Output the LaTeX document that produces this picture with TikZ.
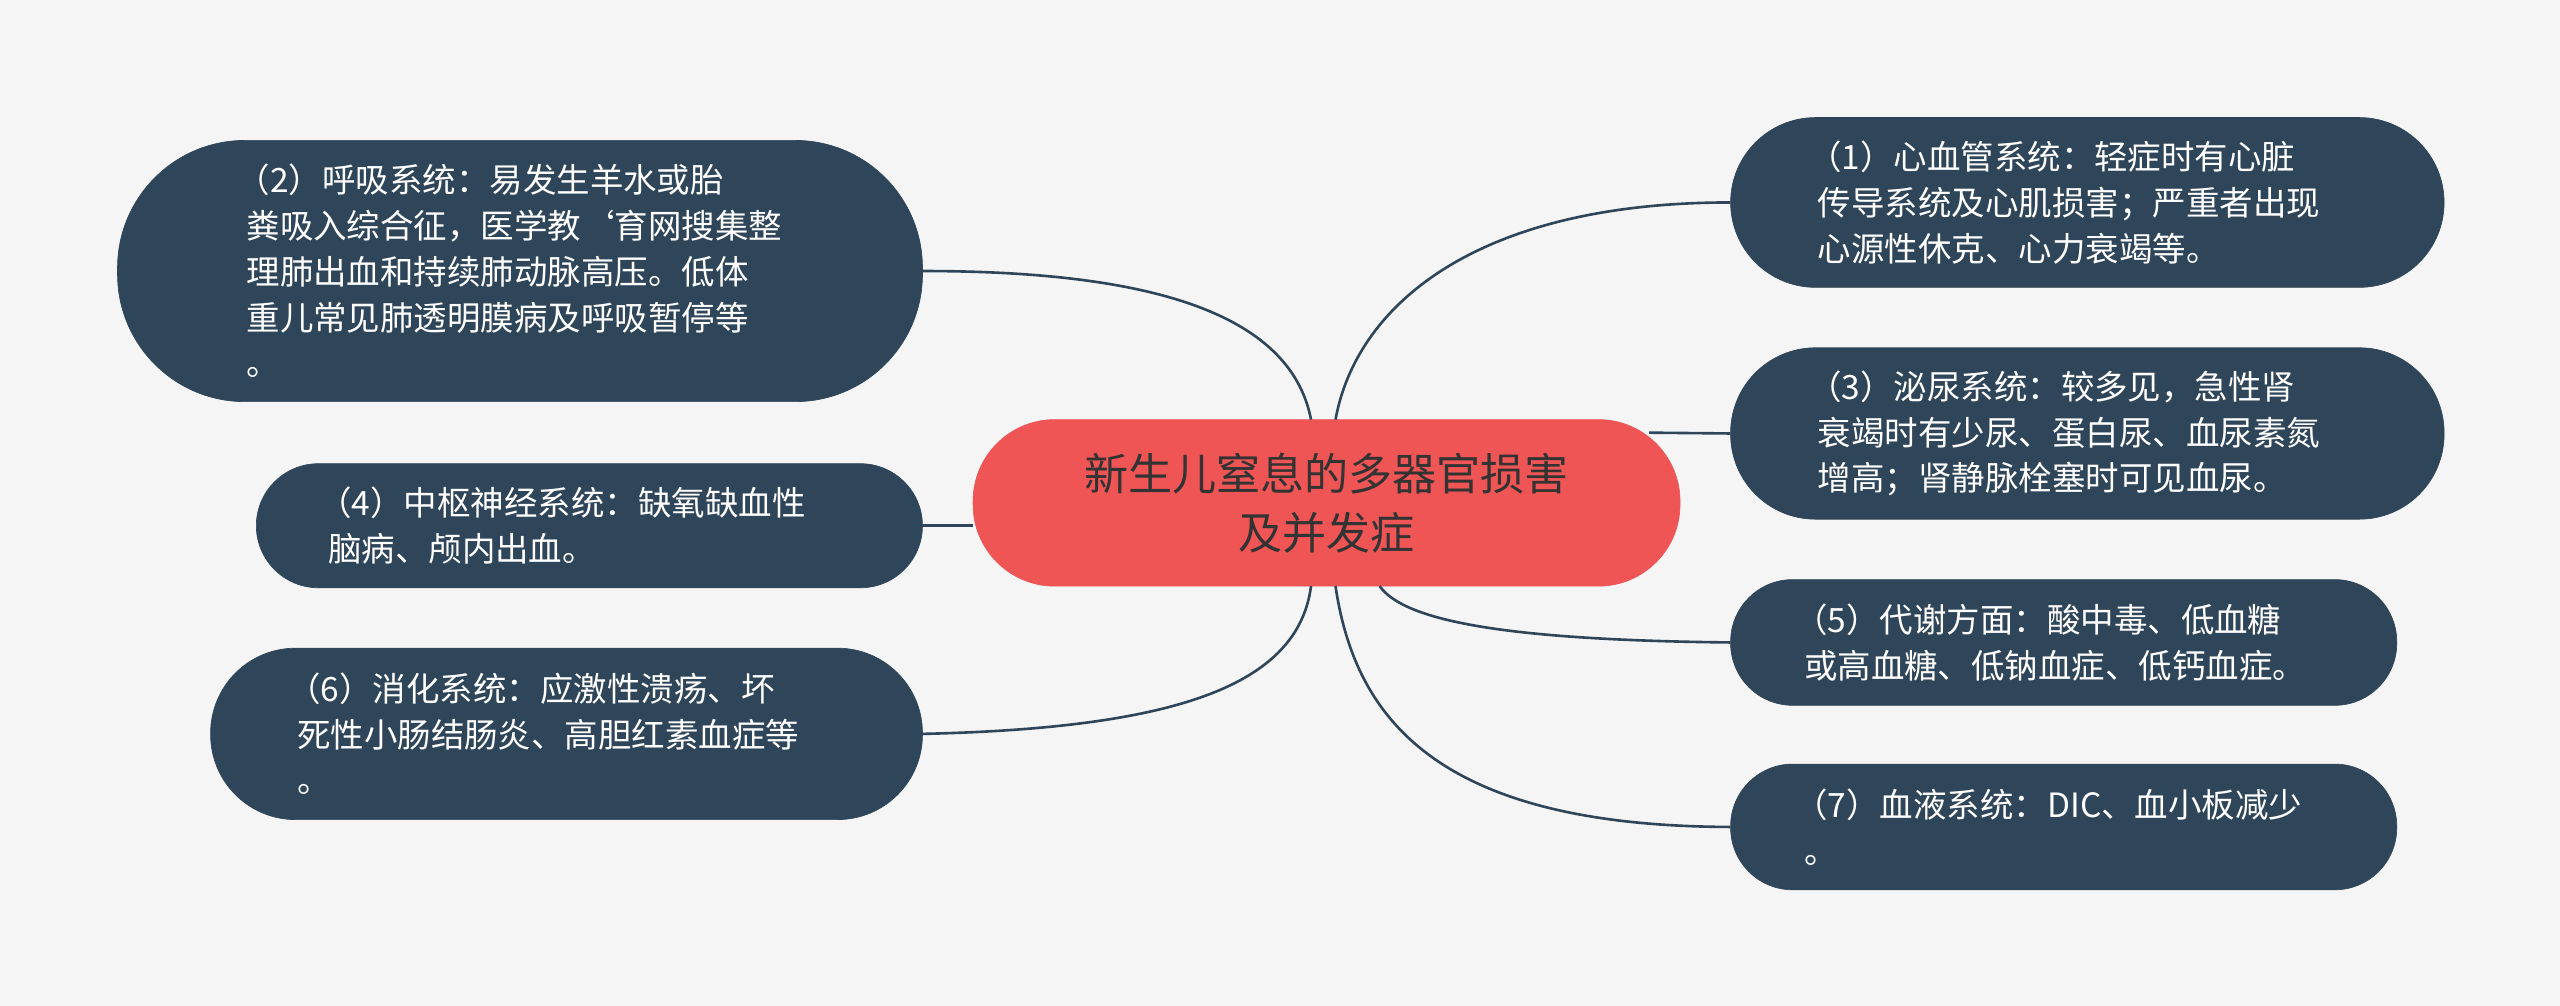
\documentclass[tikz,border=0pt]{standalone}
\usepackage{fontspec}
\setmainfont{Noto Sans CJK SC}
\definecolor{bg}{HTML}{F5F5F5}
\definecolor{dk}{HTML}{2F4559}
\definecolor{rd}{HTML}{EF5555}
\tikzset{
  leaf/.style={draw=dk,fill=dk,text=white,font=\fontsize{20.5}{28}\selectfont,align=left,inner sep=0pt},
  conn/.style={draw=dk,line width=1.6pt},
}
\begin{document}
\begin{tikzpicture}[x=1pt,y=-1pt]
\fill[bg] (0,0) rectangle (1568,616);
\useasboundingbox (0,0) rectangle (1568,616);
\node[fill=rd,draw=rd,rounded corners=50pt,minimum width=433pt,minimum height=102pt,font=\fontsize{27}{36}\selectfont,text=black!80,align=center,inner sep=0pt] (c) at (812.5,308) {新生儿窒息的多器官损害\\及并发症};
\node[leaf,rounded corners=78pt,minimum width=493pt,minimum height=160pt,text width=335pt] (n2) at (318.5,166) {\hspace*{-6pt}（2）呼吸系统：易发生羊水或胎\\粪吸入综合征，医学教`育网搜集整\\理肺出血和持续肺动脉高压。低体\\重儿常见肺透明膜病及呼吸暂停等\\。};
\node[leaf,rounded corners=38pt,minimum width=408pt,minimum height=76pt,text width=320pt] (n4) at (361,322) {\hspace*{-6pt}（4）中枢神经系统：缺氧缺血性\\脑病、颅内出血。};
\node[leaf,rounded corners=52pt,minimum width=436pt,minimum height=105pt,text width=330pt] (n6) at (347,449.5) {\hspace*{-6pt}（6）消化系统：应激性溃疡、坏\\死性小肠结肠炎、高胆红素血症等\\。};
\node[leaf,rounded corners=52pt,minimum width=437pt,minimum height=104pt,text width=330pt] (n1) at (1278.5,124) {\hspace*{-6pt}（1）心血管系统：轻症时有心脏\\传导系统及心肌损害；严重者出现\\心源性休克、心力衰竭等。};
\node[leaf,rounded corners=52pt,minimum width=437pt,minimum height=105pt,text width=330pt] (n3) at (1278.5,265.5) {\hspace*{-6pt}（3）泌尿系统：较多见，急性肾\\衰竭时有少尿、蛋白尿、血尿素氮\\增高；肾静脉栓塞时可见血尿。};
\node[leaf,rounded corners=38pt,minimum width=408pt,minimum height=77pt,text width=318pt] (n5) at (1264,393.5) {\hspace*{-6pt}（5）代谢方面：酸中毒、低血糖\\或高血糖、低钠血症、低钙血症。};
\node[leaf,rounded corners=38pt,minimum width=408pt,minimum height=77pt,text width=318pt] (n7) at (1264,506.5) {\hspace*{-6pt}（7）血液系统：DIC、血小板减少\\。};
\coordinate (cw) at (596,322);
\draw[conn] (n2.east) .. controls (700,166) and (790,190) .. (803,257);
\draw[conn] (n4.east) -- (cw);
\draw[conn] (n6.east) .. controls (720,446) and (795,420) .. (803,359);
\draw[conn] (n1.west) .. controls (900,124) and (830,190) .. (818,257);
\draw[conn] (n3.west) -- (1010,265);
\draw[conn] (n5.west) .. controls (920,392) and (860,380) .. (845,359);
\draw[conn] (n7.west) .. controls (880,506) and (830,440) .. (818,359);
\end{tikzpicture}
\end{document}
